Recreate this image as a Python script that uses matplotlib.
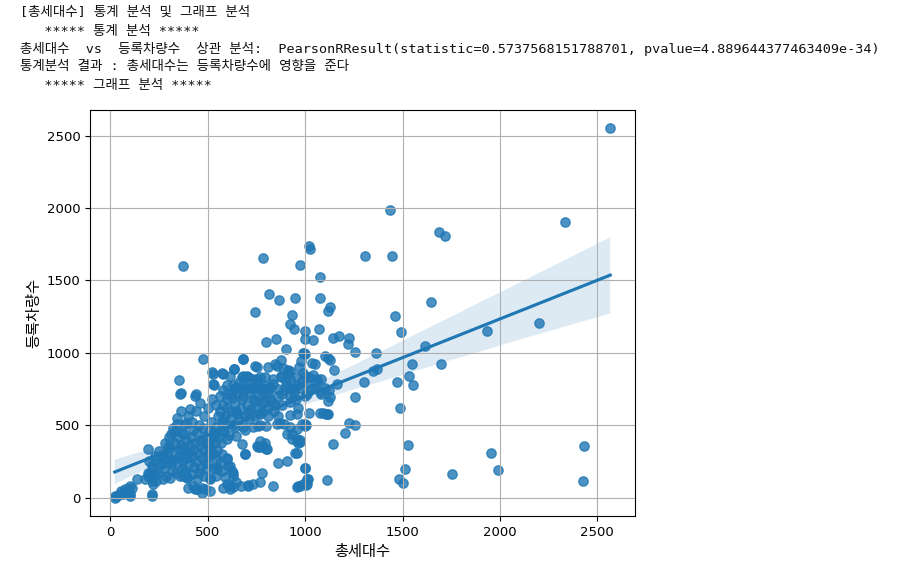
import numpy as np
import matplotlib
matplotlib.use("Agg")
import matplotlib.pyplot as plt
import seaborn as sns

# ---- data ----
outer_pts = [
    (2566, 2550), (1435, 1990), (2335, 1905), (1685, 1838), (1720, 1806), (1307, 1670), (1444, 1670),
    (1021, 1739), (1024, 1716), (973, 1605), (1075, 1527), (1646, 1352), (1075, 1382), (1127, 1313),
    (1115, 1290), (1459, 1253), (2199, 1207), (1935, 1154), (1493, 1145), (997, 1154), (1069, 1163),
    (998, 1094), (1038, 1087), (1144, 1101), (1175, 1117), (1226, 1103), (1218, 1062), (1255, 1009),
    (1363, 1002), (1615, 1048), (995, 999), (1101, 979), (1118, 961), (1127, 951), (1033, 933),
    (1050, 921), (1547, 926), (1697, 926), (1346, 873), (1367, 887), (1533, 843), (1470, 797),
    (1552, 781), (1302, 797), (1161, 783), (1058, 797), (1050, 759), (1075, 731), (1121, 745),
    (1127, 697), (1255, 698), (1487, 622), (1021, 587), (1089, 583), (1106, 576), (1226, 513),
    (1255, 504), (998, 507), (1204, 449), (973, 387), (1142, 373), (1526, 364), (1956, 311),
    (2431, 357), (998, 202), (1511, 196), (1990, 189), (1752, 166), (1113, 120), (1010, 126),
    (990, 92), (973, 80), (1483, 131), (1504, 99), (2425, 113), (1118, 668), (1110, 576),
]
mid_pts = [
    (370, 1603), (784, 1654), (815, 1405), (866, 1366), (945, 1382), (742, 1285), (933, 1262),
    (921, 1198), (942, 1163), (801, 1078), (849, 1094), (901, 1025), (990, 1002), (476, 956),
    (678, 956), (351, 813), (360, 721), (438, 714), (524, 857), (531, 781), (576, 857), (635, 891),
    (1004, 500), (891, 507), (956, 472), (973, 396), (947, 311), (861, 242), (904, 253), (776, 173),
    (759, 346), (802, 334), (690, 299), (673, 368), (1015, 131), (1004, 87), (959, 73), (707, 80),
    (835, 80), (669, 80), (609, 80), (629, 70), (596, 265), (604, 219), (622, 184), (630, 149),
    (510, 126), (502, 311), (459, 207), (545, 207), (442, 57), (468, 69), (485, 57), (399, 69),
    (391, 138), (382, 184), (305, 138), (270, 126), (228, 161), (211, 115), (193, 149), (211, 11),
    (134, 126), (99, 80), (73, 57), (56, 46), (31, 11), (22, 0), (99, 11), (65, 23), (193, 334),
    (998, 991), (874, 951), (810, 905), (853, 909), (913, 882), (750, 905), (634, 887), (519, 864),
    (575, 859), (681, 840), (701, 840), (732, 817), (770, 830), (835, 820), (874, 840), (909, 860),
    (527, 783), (613, 840), (630, 775), (681, 781), (732, 760), (790, 775), (835, 785), (900, 805),
    (950, 830), (985, 805), (1020, 830), (1100, 760), (600, 712), (650, 722), (715, 715), (785, 718),
    (880, 712), (940, 720), (1010, 715), (1080, 712),
]
low_pts = [
    (356, 714), (433, 702), (407, 610), (390, 518), (339, 507), (330, 460), (365, 449), (313, 437),
    (330, 380), (295, 341), (262, 292), (228, 265), (262, 230), (219, 207), (193, 172), (219, 149),
    (236, 115), (176, 126), (211, 23), (22, 11), (48, 23), (82, 34), (90, 57), (108, 69), (99, 23),
    (433, 57), (468, 34), (956, 576), (998, 495), (1075, 587), (1118, 576), (921, 484), (930, 437),
    (956, 403), (964, 380), (853, 507), (801, 495), (767, 502), (733, 484), (681, 484), (639, 484),
    (690, 304), (767, 350), (793, 380), (801, 334), (596, 276), (613, 218), (630, 173), (998, 207),
    (964, 80), (1007, 92), (767, 104), (733, 92), (707, 87), (647, 104), (596, 92), (579, 69),
    (613, 57), (510, 46), (510, 138), (527, 207), (545, 265), (527, 311), (510, 357), (536, 415),
    (373, 149), (425, 80), (202, 173), (219, 92), (545, 196), (502, 242),
    (681, 956), (742, 909), (844, 921), (887, 898), (921, 875), (673, 835), (707, 830), (750, 820),
    (793, 830), (878, 830), (921, 820), (596, 775), (647, 760), (699, 765), (759, 760), (810, 760),
    (862, 750), (921, 760), (964, 775), (1007, 790), (622, 690), (673, 680), (742, 670), (793, 660),
    (844, 640), (921, 660), (647, 600), (707, 590), (776, 590), (810, 560), (921, 570), (964, 620),
    (690, 470), (759, 495), (870, 518), (981, 507), (576, 540), (647, 425), (596, 403), (750, 357),
    (784, 357), (767, 391), (956, 391), (956, 311), (904, 437), (930, 403),
]
core_pts = [
    (250, 320), (265, 240), (280, 270), (290, 310), (300, 360), (310, 230), (320, 260), (330, 300),
    (340, 420), (345, 240), (350, 280), (355, 330), (360, 360), (370, 250), (375, 300), (380, 440),
    (385, 340), (390, 400), (395, 270), (400, 310), (405, 230), (410, 350), (415, 420), (420, 280),
    (425, 470), (430, 330), (435, 380), (440, 250), (445, 450), (450, 300), (455, 500), (460, 360),
    (465, 400), (470, 270), (475, 480), (480, 330), (485, 240), (490, 420), (495, 380), (500, 290),
    (505, 460), (510, 350), (515, 520), (520, 410), (525, 300), (530, 450), (535, 380), (540, 490),
    (545, 330), (550, 560), (555, 420), (560, 600), (565, 470), (570, 380), (575, 520), (580, 640),
    (585, 450), (590, 560), (595, 500), (600, 620), (610, 430), (620, 550), (630, 500), (640, 650),
    (650, 580), (660, 540), (670, 620), (680, 700), (690, 560), (700, 640), (710, 540), (720, 610),
    (730, 680), (740, 560), (750, 620), (760, 700), (770, 580), (780, 650), (800, 610), (820, 680),
    (840, 600), (860, 560), (880, 640), (900, 780), (940, 760), (980, 940),
    (200, 250), (215, 220), (230, 290), (245, 170), (275, 200), (285, 150),
    (305, 250), (315, 190), (335, 170), (355, 150), (365, 200),
    (385, 170), (395, 140), (420, 160), (430, 210), (445, 130), (455, 170),
    (480, 150), (490, 200), (540, 150), (575, 180), (590, 140),
    (560, 240), (575, 300), (620, 600), (820, 760),
    (280, 380), (300, 420), (320, 480), (340, 550), (360, 600), (380, 500), (400, 560), (420, 520),
    (440, 600), (460, 650), (480, 560), (500, 620), (520, 680), (540, 640), (560, 700), (580, 740),
    (600, 680), (625, 720), (640, 760), (660, 800), (690, 750), (720, 760), (750, 800), (780, 760),
    (810, 720), (830, 660), (860, 700), (890, 740), (920, 700), (950, 680), (970, 900), (990, 860),
    (1000, 840), (1040, 850), (1060, 820), (1080, 820), (1150, 880), (1000, 700), (1030, 750), (970, 760),
]

all_pts = outer_pts + mid_pts + low_pts + core_pts
households = np.array([p[0] for p in all_pts], dtype=float)   # 총세대수
vehicles = np.array([p[1] for p in all_pts], dtype=float)     # 등록차량수

x_ticks = [0, 500, 1000, 1500, 2000, 2500]
y_ticks = [0, 500, 1000, 1500, 2000, 2500]

console_lines = [
    "[총세대수] 통계 분석 및 그래프 분석",
    "   ***** 통계 분석 *****",
    "총세대수  vs  등록차량수  상관 분석:  PearsonRResult(statistic=0.5737568151788701, pvalue=4.889644377463409e-34)",
    "통계분석 결과 : 총세대수는 등록차량수에 영향을 준다",
    "   ***** 그래프 분석 *****",
]

# ---- figure ----
plt.rcParams['font.family'] = ['DejaVu Sans', 'Noto Sans CJK KR']
W, H = 918, 572
fig = plt.figure(figsize=(W / 100, H / 100), dpi=100)
fig.patch.set_facecolor('white')

line_y = [12, 31, 49, 67, 86]
for txt, yy in zip(console_lines, line_y):
    fig.text(20 / W, 1 - yy / H, txt, ha='left', va='center', fontsize=9.7,
             family=['DejaVu Sans Mono', 'Noto Sans CJK KR'], color='#111111')

ax = fig.add_axes([90 / W, 1 - 516 / H, (635 - 90) / W, (516 - 110) / H])
sns.regplot(x=households, y=vehicles, ax=ax, color='#1f77b4', seed=0,
            scatter_kws={'s': 45})
ax.set_xticks(x_ticks)
ax.set_yticks(y_ticks)
ax.tick_params(labelsize=9.5)
ax.set_xlabel('총세대수', fontsize=11)
ax.set_ylabel('등록차량수', fontsize=11)
ax.grid(True)

fig.savefig('out.png', dpi=100)
